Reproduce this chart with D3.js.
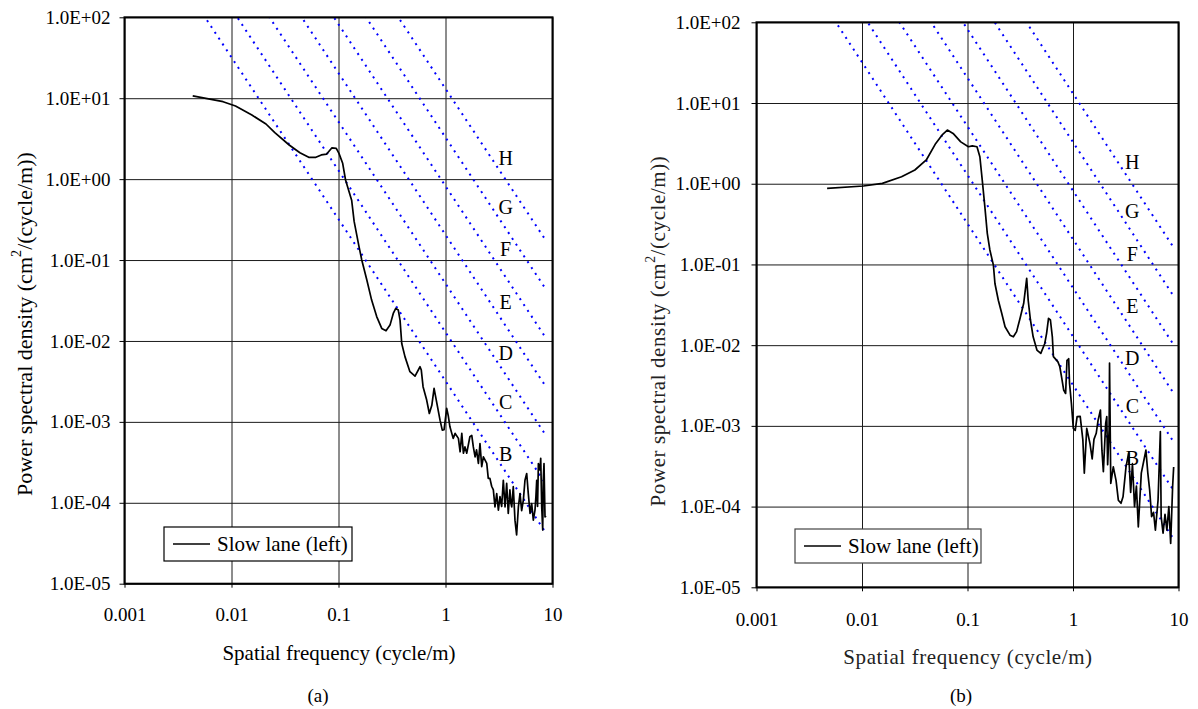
<!DOCTYPE html>
<html><head><meta charset="utf-8">
<script src="https://cdn.jsdelivr.net/npm/d3@7"></script>
<style>
@font-face{font-family:"ChartSerif";src:local("Liberation Serif"),local("LiberationSerif"),local("LiberationSerif-Regular"),local("Tinos"),local("Times New Roman");}
body{margin:0;background:#fff;font-family:"Liberation Serif",Tinos,"Times New Roman",serif;}
svg{display:block;}
</style></head><body>
<svg id="chart" width="1198" height="709" font-family="Liberation Serif, Tinos, Times New Roman, serif"></svg>
<script>
// ---- tick values ----
const xTicks = [0.001, 0.01, 0.1, 1, 10];
const yTicks = [1e2, 1e1, 1e0, 1e-1, 1e-2, 1e-3, 1e-4, 1e-5];

// ---- road class boundary lines (ISO 8608), endpoints ----
const classNames = ["B", "C", "D", "E", "F", "G", "H"];
const boundaryFreq = [0.005, 8.8];
const boundaryPSDStart = [128, 512, 2048, 8192, 32768, 131072, 524288];
const boundaryPSDEnd = [4.13e-5, 1.653e-4, 6.61e-4, 2.645e-3, 1.058e-2, 4.231e-2, 0.1693];
const classLabelFreq = 3.65;
const classLabelPSD = [3.96e-4, 1.77e-3, 7.0e-3, 3.05e-2, 0.135, 0.455, 1.85];

// ---- series (a) ----
const aFreq = [0.00434,0.00834,0.0109,0.0155,0.021,0.0254,0.0346,0.0436,0.0527,0.0615,0.069,0.0775,0.0869,0.0953,0.101,0.1094,0.1164,0.1327,0.14,0.155,0.165,0.184,0.204,0.2275,0.2535,0.278,0.303,0.325,0.343,0.362,0.376,0.39,0.418,0.465,0.519,0.578,0.594,0.617,0.667,0.706,0.745,0.782,0.82,0.889,0.933,0.97,1.026,1.06,1.1,1.18,1.23,1.32,1.37,1.42,1.47,1.52,1.58,1.69,1.76,1.82,1.89,1.95,2.03,2.1,2.18,2.26,2.43,2.51,2.6,2.7,2.8,2.9,3.01,3.12,3.23,3.35,3.47,3.6,3.73,3.86,4.0,4.08,4.16,4.3,4.46,4.62,4.8,4.97,5.15,5.34,5.53,5.74,5.94,6.17,6.39,6.62,6.86,7.0,7.12,7.25,7.38,7.64,7.76,7.93,8.1,8.2,8.33,8.51,8.69];
const aPSD = [10.7,9.06,8.0,6.2,4.8,3.75,2.64,2.12,1.86,1.86,1.99,2.04,2.44,2.4,2.08,1.57,0.975,0.55,0.3,0.15,0.1,0.0566,0.032,0.02,0.0143,0.01337,0.0157,0.0219,0.0253,0.0241,0.0181,0.0093,0.0064,0.00417,0.00368,0.0048,0.00437,0.00272,0.00186,0.00127,0.0016,0.00259,0.00186,0.00105,0.00079,0.0008,0.00147,0.0012,0.00087,0.000625,0.00072,0.000625,0.000427,0.00072,0.00041,0.00049,0.00041,0.000655,0.00068,0.00049,0.00037,0.00045,0.000306,0.00054,0.00028,0.00037,0.000306,0.0002,0.0002,0.00016,0.000144,0.000089,0.00013,0.000081,0.000119,0.00009,0.00019,0.000089,0.000174,0.000074,0.000144,0.0001,0.000089,0.000158,0.000061,0.00004,0.000089,0.00013,0.00008,0.000108,0.00019,0.00023,0.00013,0.000074,0.000098,0.000061,0.000081,0.00012,0.00019,0.00009,0.000306,0.000254,0.000354,0.000089,0.000046,0.00019,0.000306,0.000067,0.000069];

// ---- series (b) ----
const bFreq = [0.00467,0.0103,0.0156,0.0237,0.0317,0.0407,0.05,0.0582,0.0644,0.073,0.0863,0.102,0.111,0.123,0.131,0.138,0.146,0.154,0.163,0.176,0.182,0.196,0.211,0.227,0.253,0.272,0.292,0.315,0.341,0.364,0.376,0.395,0.419,0.455,0.495,0.54,0.562,0.586,0.611,0.637,0.652,0.72,0.75,0.783,0.816,0.851,0.877,0.889,0.91,0.927,0.966,1.007,1.05,1.094,1.17,1.24,1.28,1.35,1.45,1.52,1.58,1.66,1.73,1.82,1.88,1.94,2.04,2.09,2.13,2.2,2.22,2.28,2.41,2.56,2.69,2.85,2.98,3.18,3.37,3.52,3.66,3.83,3.99,4.16,4.44,4.71,4.91,5.12,5.33,5.56,5.8,6.04,6.4,6.73,6.85,7.14,7.45,7.76,8.1,8.43,8.8,9.0];
const bPSD = [0.877,0.937,1.01,1.22,1.48,1.97,3.16,4.1,4.63,4.2,3.3,2.87,2.95,2.87,2.16,1.11,0.52,0.243,0.151,0.098,0.058,0.036,0.0248,0.0169,0.0133,0.0127,0.0147,0.0215,0.033,0.0673,0.036,0.0205,0.0127,0.0087,0.0079,0.0105,0.014,0.0215,0.0205,0.0127,0.0072,0.0062,0.0054,0.00387,0.00278,0.00252,0.0065,0.00653,0.0068,0.00337,0.0019,0.00093,0.00088,0.0013,0.00131,0.00067,0.00026,0.00093,0.0006,0.00039,0.00068,0.00081,0.00118,0.00157,0.0005,0.00027,0.00107,0.0013,0.00033,0.0009,0.006,0.000194,0.00031,0.00021,0.00012,0.00011,0.000132,0.00031,0.00046,0.00015,0.00034,0.0001,0.00018,0.000056,0.00026,0.00038,0.0005,0.00026,0.00016,0.000075,0.000085,0.000051,0.00012,0.00085,0.000075,0.000047,0.00008,0.000051,0.0001,0.000035,0.00018,0.00031];

const legendLabel = "Slow lane (left)";
const xTitle = "Spatial frequency (cycle/m)";
const FONT = "'Liberation Serif', ChartSerif, Tinos, 'Times New Roman', serif";

function fmtE(v) {
  const e = Math.round(Math.log10(v));
  const a = Math.abs(e);
  return "1.0E" + (e < 0 ? "-" : "+") + (a < 10 ? "0" : "") + a;
}

const svg = d3.select("#chart");
const defs = svg.append("defs");

function txt(sel, size) {
  return sel.attr("font-family", "Liberation Serif, Tinos, Times New Roman, serif")
    .attr("font-size", size).style("font-family", FONT).style("font-size", size + "px");
}

function panel(o) {
  const g = svg.append("g");
  const x = d3.scaleLog().domain([0.001, 10]).range([o.x0, o.x1]);
  const y = d3.scaleLog().domain([1e-5, 1e2]).range([o.y1, o.y0]);
  const w = o.x1 - o.x0, h = o.y1 - o.y0;
  const cid = "clip" + o.key;
  defs.append("clipPath").attr("id", cid).append("rect")
    .attr("x", o.x0).attr("y", o.y0).attr("width", w).attr("height", h);

  // grid
  const gx = g.append("g").attr("transform", `translate(0,${o.y1})`)
    .call(d3.axisBottom(x).tickValues(xTicks).tickSize(-h).tickFormat(""));
  const gy = g.append("g").attr("transform", `translate(${o.x0},0)`)
    .call(d3.axisLeft(y).tickValues(yTicks).tickSize(-w).tickFormat(""));
  [gx, gy].forEach(a => {
    a.attr("font-family", null).attr("font-size", null);
    a.select(".domain").remove();
    a.selectAll("text").remove();
    a.selectAll("line").attr("stroke", "#1a1a1a").attr("stroke-width", 1);
  });

  // axes with labels
  const ax = g.append("g").attr("transform", `translate(0,${o.y1})`)
    .call(d3.axisBottom(x).tickValues(xTicks).tickSize(4).tickPadding(o.xPad)
      .tickFormat(d => d3.format("~g")(d)));
  const ay = g.append("g").attr("transform", `translate(${o.x0},0)`)
    .call(d3.axisLeft(y).tickValues(yTicks).tickSize(5).tickPadding(o.yPad).tickFormat(fmtE));
  [ax, ay].forEach(a => {
    a.attr("font-family", "Liberation Serif, Tinos, Times New Roman, serif").attr("font-size", 19);
    a.select(".domain").remove();
    a.selectAll("line").attr("stroke", "#000");
    txt(a.selectAll("text"), 19).attr("fill", "#000");
  });

  // class boundary lines
  const lineGen = d3.line().x(d => x(d[0])).y(d => y(d[1]));
  const bl = g.append("g").attr("clip-path", `url(#${cid})`);
  bl.selectAll("path").data(boundaryPSDStart.map((s, i) => [[boundaryFreq[0], s], [boundaryFreq[1], boundaryPSDEnd[i]]]))
    .join("path").attr("d", lineGen).attr("fill", "none")
    .attr("stroke", "#0000ff").attr("stroke-width", 2).attr("stroke-dasharray", "2,5");

  // class labels
  txt(g.append("g").selectAll("text").data(classNames).join("text")
    .attr("x", x(classLabelFreq)).attr("y", (d, i) => y(classLabelPSD[i]))
    .attr("text-anchor", "middle").attr("dominant-baseline", "central"), 20).text(d => d);

  // series
  const pts = o.freq.map((f, i) => [f, o.psd[i]]);
  g.append("path").datum(pts).attr("clip-path", `url(#${cid})`)
    .attr("d", lineGen).attr("fill", "none").attr("stroke", "#000")
    .attr("stroke-width", 1.7).attr("stroke-linejoin", "round");

  // frame
  g.append("rect").attr("x", o.x0).attr("y", o.y0).attr("width", w).attr("height", h)
    .attr("fill", "none").attr("stroke", "#000").attr("stroke-width", 2);

  // legend
  const lg = g.append("g");
  lg.append("rect").attr("x", o.lx0).attr("y", o.ly0).attr("width", o.lx1 - o.lx0).attr("height", o.ly1 - o.ly0)
    .attr("fill", "#fff").attr("stroke", o.legendStroke).attr("stroke-width", 1.2);
  const lym = (o.ly0 + o.ly1) / 2;
  lg.append("line").attr("x1", o.lx0 + 9).attr("x2", o.lx0 + 46).attr("y1", lym).attr("y2", lym)
    .attr("stroke", "#000").attr("stroke-width", 1.7);
  txt(lg.append("text").attr("x", o.lx0 + 53).attr("y", lym).attr("dominant-baseline", "central"), 21)
    .text(legendLabel);

  // x title
  txt(g.append("text").attr("x", o.xtX).attr("y", o.xtY).attr("text-anchor", "middle")
    .attr("dominant-baseline", "central"), 21)
    .style("letter-spacing", o.titleSpacing + "px").attr("fill", o.titleColor).text(xTitle);

  // y title
  const yt = txt(g.append("text").attr("transform", `translate(${o.ytX},${o.ytY}) rotate(-90)`)
    .attr("text-anchor", "middle").attr("dominant-baseline", "central"), o.ytSize)
    .style("letter-spacing", o.titleSpacing + "px").attr("fill", o.titleColor);
  yt.append("tspan").text("Power spectral density (cm");
  yt.append("tspan").attr("baseline-shift", "super").style("font-size", (o.ytSize * 0.65) + "px").text("2");
  yt.append("tspan").text("/(cycle/m))");

  // caption
  txt(g.append("text").attr("x", o.capX).attr("y", 695).attr("text-anchor", "middle")
    .attr("dominant-baseline", "central"), 19).text(o.caption);
}

panel({key: "a", x0: 124.5, x1: 552.5, y0: 17.3, y1: 583.7, xPad: 20, yPad: 9,
  freq: aFreq, psd: aPSD, lx0: 164, lx1: 352, ly0: 527, ly1: 561, legendStroke: "#000",
  xtX: 339, xtY: 653, ytX: 24, ytY: 324, ytSize: 22, titleSpacing: 0, titleColor: "#000",
  capX: 318, caption: "(a)"});
panel({key: "b", x0: 756.5, x1: 1178.5, y0: 22.3, y1: 587.3, xPad: 21, yPad: 11,
  freq: bFreq, psd: bPSD, lx0: 795, lx1: 981, ly0: 529, ly1: 563, legendStroke: "#444",
  xtX: 968, xtY: 657, ytX: 658, ytY: 331, ytSize: 21, titleSpacing: 0.6, titleColor: "#222",
  capX: 961, caption: "(b)"});
</script>
</body></html>
